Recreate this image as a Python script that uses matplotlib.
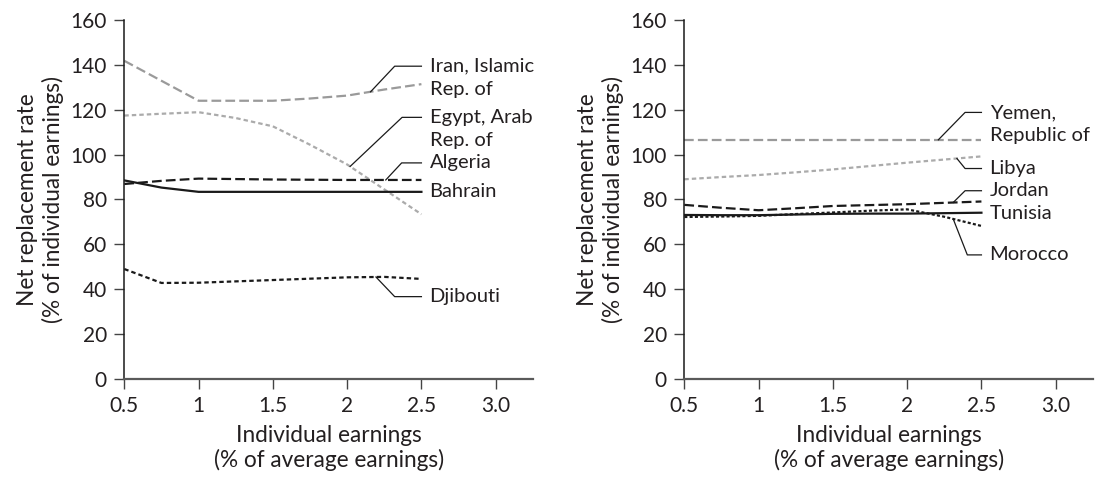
import numpy as np
import matplotlib.pyplot as plt

plt.rcParams['font.family'] = ['Lato', 'DejaVu Sans']
plt.rcParams['lines.scale_dashes'] = False

# Données
gains = [0.5, 0.75, 1.0, 1.25, 1.5, 1.75, 2.0, 2.25, 2.5]

iran = [141.8, 132.9, 124.0, 124.0, 124.0, 125.0, 126.3, 129.0, 131.4]
egypte = [117.4, 118.2, 118.9, 116.3, 112.6, 104.4, 95.6, 84.5, 73.4]
algerie = [86.9, 88.3, 89.3, 89.1, 88.9, 88.8, 88.7, 88.7, 88.7]
bahrein = [88.5, 85.3, 83.4, 83.4, 83.4, 83.4, 83.4, 83.4, 83.4]
djibouti = [49.0, 42.8, 42.9, 43.5, 44.1, 44.7, 45.3, 45.5, 44.6]

yemen = [106.6, 106.6, 106.6, 106.6, 106.6, 106.6, 106.6, 106.6, 106.6]
libye = [89.0, 90.0, 90.9, 92.1, 93.4, 94.9, 96.4, 97.8, 99.2]
jordanie = [77.6, 76.3, 75.2, 76.1, 77.1, 77.5, 77.9, 78.5, 79.1]
tunisie = [73.1, 73.0, 73.0, 73.3, 73.6, 73.7, 73.7, 73.9, 74.1]
maroc = [72.2, 72.4, 72.7, 73.5, 74.2, 75.0, 75.6, 72.3, 68.2]

ticks_x = [0.5, 1, 1.5, 2, 2.5, 3.0]
labels_x = ["0.5", "1", "1.5", "2", "2.5", "3.0"]
ticks_y = [0, 20, 40, 60, 80, 100, 120, 140, 160]

gris = "#9a9a9a"
gris_clair = "#ababab"
noir = "#1a1a1a"
tiret_long = (0, (7, 3))
tiret_court = (0, (3.2, 2.2))
pointille = (0, (2.2, 1.6))

# (valeurs, couleur, style, étiquette, x ancre, x coude, y étiquette)
gauche = [
    (iran, gris, tiret_long, ["Iran, Islamic", "Rep. of"], 2.158, 2.32, 139.4),
    (egypte, gris_clair, tiret_court, ["Egypt, Arab", "Rep. of"], 2.02, 2.37, 116.6),
    (algerie, noir, tiret_long, ["Algeria"], 2.26, 2.367, 96.3),
    (bahrein, noir, "-", ["Bahrain"], None, None, 83.4),
    (djibouti, noir, tiret_court, ["Djibouti"], 2.194, 2.32, 36.7),
]
droite = [
    (yemen, gris, tiret_long, ["Yemen,", "Republic of"], 2.21, 2.39, 118.8),
    (libye, gris_clair, tiret_court, ["Libya"], 2.335, 2.39, 93.8),
    (jordanie, noir, tiret_long, ["Jordan"], 2.31, 2.39, 83.9),
    (tunisie, noir, "-", ["Tunisia"], None, None, 73.8),
    (maroc, noir, pointille, ["Morocco"], 2.31, 2.405, 55.3),
]

fig = plt.figure(figsize=(11.05, 4.79), dpi=100)
ax1 = fig.add_axes([0.1125, 0.2088, 0.3701, 0.7495])
ax2 = fig.add_axes([0.6193, 0.2088, 0.3701, 0.7495])

for ax, series in [(ax1, gauche), (ax2, droite)]:
    for valeurs, couleur, style, texte, xa, xc, ye in series:
        ax.plot(gains, valeurs, color=couleur, linestyle=style, linewidth=1.6)
        if xa is not None:
            ya = np.interp(xa, gains, valeurs)
            ax.plot([xa, xc, 2.5], [ya, ye, ye], color=noir, linewidth=0.9)
        for i, ligne in enumerate(texte):
            ax.text(2.555, ye - i * 10.3, ligne, fontsize=14.5, color="#231f20",
                    va="center", ha="left")

    ax.set_xlim(0.5, 3.253)
    ax.set_ylim(0, 160)
    ax.set_xticks(ticks_x)
    ax.set_xticklabels(labels_x)
    ax.set_yticks(ticks_y)
    ax.spines["top"].set_visible(False)
    ax.spines["right"].set_visible(False)
    ax.spines["left"].set_color(noir)
    ax.spines["bottom"].set_color("#5a5a5a")
    ax.spines["left"].set_linewidth(1.1)
    ax.spines["bottom"].set_linewidth(1.6)
    ax.tick_params(axis="both", direction="out", length=7.5, width=1.0,
                   color="#444444", labelsize=15, labelcolor="#231f20", pad=5)
    ax.set_xlabel("Individual earnings\n(% of average earnings)", fontsize=16.3,
                  color="#231f20", labelpad=6, linespacing=1.2)
    ax.set_ylabel("Net replacement rate\n(% of individual earnings)", fontsize=16.3,
                  color="#231f20", labelpad=5, linespacing=1.2)

plt.savefig("out.png", dpi=100)
plt.close()
